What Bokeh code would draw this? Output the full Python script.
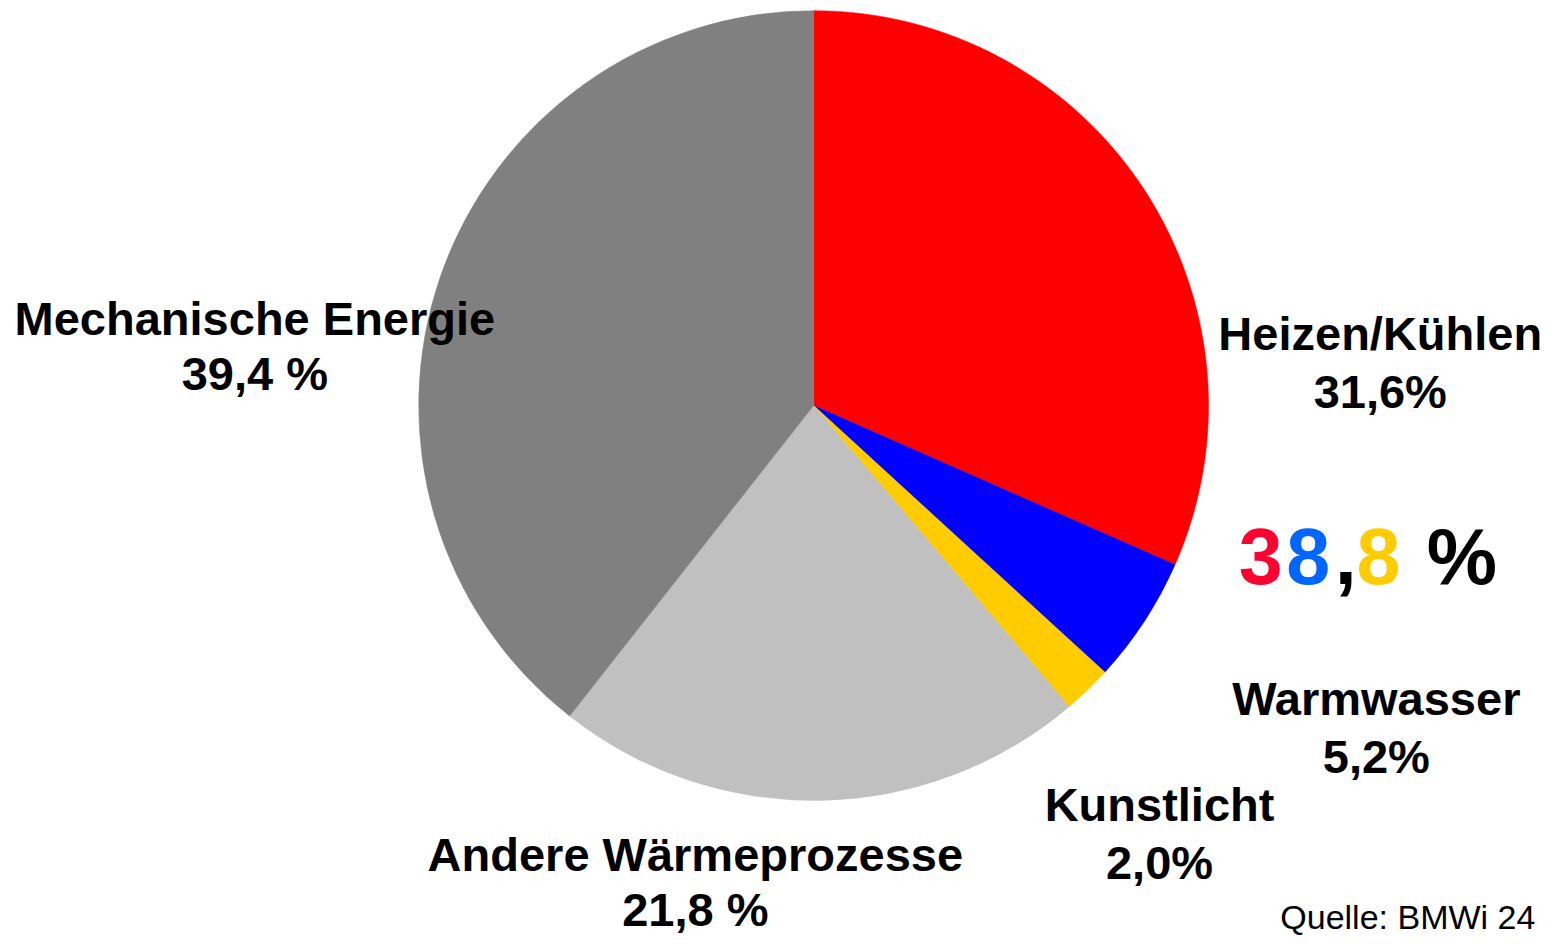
import numpy as np
from bokeh.plotting import figure
from bokeh.models import Range1d, ColumnDataSource
from bokeh.core.properties import value
from bokeh.embed import file_html
from bokeh.resources import INLINE

# ---- data (clockwise from 12 o'clock) ----
categories = ["Heizen/Kühlen", "Warmwasser", "Kunstlicht", "Andere Wärmeprozesse", "Mechanische Energie"]
shares = [31.6, 5.2, 2.0, 21.8, 39.4]
pct_sep = ["", "", "", " ", " "]
colors = ["#FF0000", "#0000FF", "#FFCC00", "#C0C0C0", "#808080"]
source_note = "Quelle: BMWi 24"

# ---- layout: data units = reference-image pixels ----
W, H = 1551, 935
REF_W, REF_H = 1567, 951
BASE_FIX = 0.36  # svg alphabetic baseline correction (fraction of font size)

def Y(y_px, fs=0):
    return REF_H - y_px + BASE_FIX * fs

cx, cy, R = 821.5, 412, 399

frac = np.array(shares) / sum(shares)
cum = np.concatenate([[0], np.cumsum(frac)])
start = np.pi / 2 - cum[:-1] * 2 * np.pi
end = np.pi / 2 - cum[1:] * 2 * np.pi

p = figure(width=W, height=H, output_backend="svg", toolbar_location=None,
           x_range=Range1d(0, REF_W), y_range=Range1d(0, REF_H),
           x_axis_location=None, y_axis_location=None, min_border=0,
           outline_line_color=None, background_fill_color="white", border_fill_color="white")
p.grid.visible = False

src = ColumnDataSource(dict(start=start, end=end, color=colors))
p.wedge(x=cx, y=Y(cy), radius=R, start_angle="start", end_angle="end", direction="clock",
        fill_color="color", line_color="color", line_width=0.5, source=src)

# labels: x centre, baseline of line 1, baseline of line 2
lab_x = [1394, 1390, 1171, 702, 257]
lab_y1 = [356, 727, 835, 886, 340]
lab_y2 = [415, 786, 894, 941, 396]
pct_txt = [f"{v:.1f}".replace(".", ",") + s + "%" for v, s in zip(shares, pct_sep)]

FS = 47
font = value("Liberation Sans")
p.text(x=lab_x, y=[Y(v, FS) for v in lab_y1], text=categories, text_font=font,
       text_font_style="bold", text_font_size=f"{FS}px", text_align="center",
       text_baseline="alphabetic", text_color="black")
p.text(x=lab_x, y=[Y(v, FS) for v in lab_y2], text=pct_txt, text_font=font,
       text_font_style="bold", text_font_size=f"{FS}px", text_align="center",
       text_baseline="alphabetic", text_color="black")

# big total of first three (heating/cooling + hot water + lighting)
total = f"{sum(shares[:3]):.1f}".replace(".", ",")
big_parts = [total[0], total[1], total[2], total[3], "%"]
big_colors = ["#FF0033", "#0066FF", "black", "#FFCC00", "black"]
big_x = [1251, 1299, 1348, 1370, 1441]
BFS = 79
p.text(x=big_x, y=[Y(594, BFS)] * 5, text=big_parts, text_color=big_colors, text_font=font,
       text_font_style="bold", text_font_size=f"{BFS}px", text_align="left",
       text_baseline="alphabetic")

QFS = 34
p.text(x=[1293], y=[Y(944, QFS)], text=[source_note], text_font=font,
       text_font_size=f"{QFS}px", text_align="left", text_baseline="alphabetic", text_color="black")

open("out.html", "w").write(file_html(p, INLINE))
